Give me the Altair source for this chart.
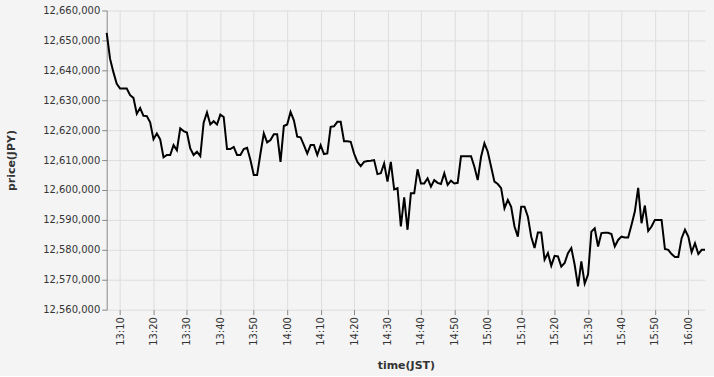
import altair as alt
import pandas as pd

start_time = "2024-01-01 13:06"
prices = [
    12652500, 12643900, 12639400, 12635500, 12633900, 12633900, 12633900, 12631700, 12630800, 12625500,
    12627400, 12624800, 12624700, 12622600, 12617000, 12618900, 12616900, 12610900, 12611700, 12611700,
    12615000, 12613300, 12620600, 12619700, 12619200, 12613900, 12611700, 12612800, 12611300, 12622500,
    12625900, 12621900, 12623000, 12621900, 12625200, 12624400, 12613700, 12613700, 12614400, 12611700,
    12611700, 12613700, 12614100, 12610000, 12605000, 12605000, 12612200, 12618900, 12615900, 12616700,
    12618600, 12618600, 12609400, 12621400, 12621900, 12626100, 12623300, 12617800, 12617600, 12615000,
    12612200, 12615000, 12615000, 12611700, 12615000, 12612000, 12612200, 12621100, 12621300, 12622800,
    12622800, 12616300, 12616300, 12616100, 12612200, 12609400, 12608000, 12609400, 12609700, 12609800,
    12610000, 12605300, 12605600, 12608900, 12602800, 12609400, 12600200, 12600600, 12587800, 12597500,
    12586700, 12598900, 12598900, 12606900, 12602200, 12602200, 12603900, 12601100, 12603300, 12602400,
    12602000, 12605600, 12601700, 12603100, 12602200, 12602400, 12611300, 12611300, 12611300, 12611300,
    12607800, 12603300, 12611100, 12615600, 12612800, 12607800, 12602800, 12602000, 12600600, 12593900,
    12596700, 12594400, 12587800, 12584400, 12594400, 12594400, 12591100, 12584400, 12580600, 12585800,
    12585800, 12576700, 12578900, 12574700, 12578000, 12577800, 12574400, 12575600, 12578900, 12580600,
    12575000, 12567800, 12576100, 12568700, 12571700, 12586100, 12587200, 12581100, 12585600, 12585700,
    12585700, 12585300, 12581100, 12583300, 12584400, 12584100, 12584100, 12588300, 12592800, 12600700,
    12588900, 12594800, 12586300, 12587800, 12590000, 12590000, 12590000, 12580300, 12580000, 12578600,
    12577600, 12577600, 12583900, 12586700, 12584400, 12579200, 12582200, 12578600, 12580000, 12580000,
]
y_ticks = [12560000 + 10000 * i for i in range(11)]
x_tick_times = ["13:10", "13:20", "13:30", "13:40", "13:50", "14:00", "14:10", "14:20", "14:30",
                "14:40", "14:50", "15:00", "15:10", "15:20", "15:30", "15:40", "15:50", "16:00"]

times = pd.date_range(start_time, periods=len(prices), freq="min")
df = pd.DataFrame({"time": times.strftime("%Y-%m-%dT%H:%M:%S"), "price": prices})

x_values = [
    alt.DateTime(year=2024, month=1, date=1, hours=int(t[:2]), minutes=int(t[3:]))
    for t in x_tick_times
]

chart = (
    alt.Chart(df)
    .mark_line(color="black", strokeWidth=2)
    .encode(
        x=alt.X(
            "time:T",
            scale=alt.Scale(nice=False),
            axis=alt.Axis(
                title="time(JST)",
                format="%H:%M",
                labelAngle=-90,
                values=x_values,
                domain=False,
                titlePadding=14,
            ),
        ),
        y=alt.Y(
            "price:Q",
            scale=alt.Scale(domain=[12560000, 12660000], nice=False, zero=False),
            axis=alt.Axis(
                title="price(JPY)",
                format=",.0f",
                values=y_ticks,
                titlePadding=26,
            ),
        ),
    )
    .properties(width=600, height=300, background="#f4f4f4")
    .configure_view(stroke="transparent")
    .configure_axis(
        gridColor="#dddddd",
        domainColor="#888888",
        tickColor="#888888",
        labelColor="#333333",
        labelFontSize=10,
        titleFontSize=11,
        titleFontWeight="bold",
        titleColor="#333333",
        labelFont="DejaVu Sans",
        titleFont="DejaVu Sans",
    )
)

chart.save("out.html", embed_options={"renderer": "svg", "actions": False})
